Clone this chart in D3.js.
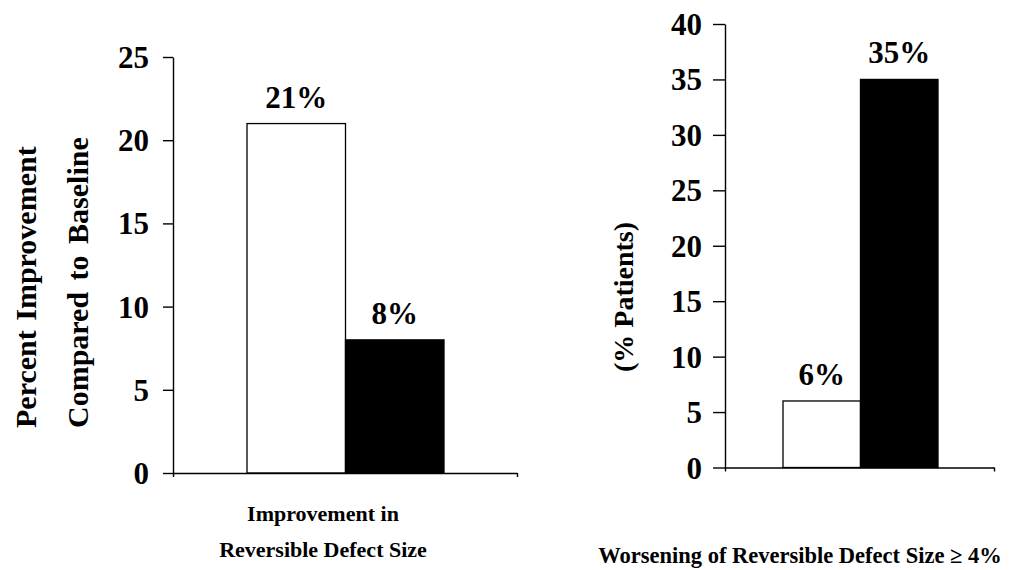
<!DOCTYPE html>
<html>
<head>
<meta charset="utf-8">
<script src="https://cdn.jsdelivr.net/npm/d3@7"></script>
<style>
  body { margin: 0; background: #fff; }
  svg { display: block; }
  text { font-family: "Liberation Serif", "Times New Roman", serif; font-weight: bold; fill: #000; }
</style>
</head>
<body>
<div class="chart"></div>
<script>
// data
const groups = ['Group A', 'Group B'];
const improvementValues = [21, 8];     // left panel, % improvement vs baseline
const worseningValues = [6, 35];       // right panel, % patients
const leftTicks = [0, 5, 10, 15, 20, 25];
const rightTicks = [0, 5, 10, 15, 20, 25, 30, 35, 40];
const leftLabels = ['21%', '8%'];
const rightLabels = ['6%', '35%'];

const fills = ['#fff', '#000'];

const svg = d3.select('.chart').append('svg')
  .attr('width', 1009).attr('height', 570);

// one panel = y axis + baseline + two bars + value labels
function drawPanel(opt) {
  const y = d3.scaleLinear([0, opt.yMax], [opt.y0, opt.y1]);
  const x = d3.scaleBand().domain(groups).range([opt.barL, opt.barR]).paddingInner(0);

  const g = svg.append('g');

  // bars
  g.selectAll('.bar').data(opt.values).join('rect')
    .attr('class', 'bar')
    .attr('x', (d, i) => x(groups[i]))
    .attr('y', d => y(d))
    .attr('width', x.bandwidth())
    .attr('height', d => y(0) - y(d))
    .attr('fill', (d, i) => fills[i])
    .attr('stroke', '#000')
    .attr('stroke-width', 1.3);

  // value labels above bars
  g.selectAll('.val').data(opt.values).join('text')
    .attr('class', 'val')
    .attr('x', (d, i) => x(groups[i]) + x.bandwidth() / 2)
    .attr('y', d => y(d) - 16)
    .attr('text-anchor', 'middle')
    .style('font-size', '31px')
    .text((d, i) => opt.labels[i]);

  // y axis
  const yAxis = d3.axisLeft(y).tickValues(opt.ticks)
    .tickSize(opt.tick).tickSizeOuter(0).tickPadding(opt.pad);
  const yg = g.append('g')
    .attr('transform', `translate(${opt.axisX},0)`)
    .call(yAxis);
  yg.selectAll('text').style('font-size', opt.tickFont + 'px').attr('dy', '0.34em');
  yg.selectAll('path, line').attr('stroke', '#000').attr('stroke-width', 1.4);

  // x baseline with small ticks at both ends
  const xb = d3.scaleLinear([0, 1], [opt.axisX, opt.xEnd]);
  const xg = g.append('g')
    .attr('transform', `translate(0,${y(0)})`)
    .call(d3.axisBottom(xb).tickValues([0, 1]).tickSize(4).tickSizeOuter(0).tickFormat(''));
  xg.selectAll('path, line').attr('stroke', '#000').attr('stroke-width', 1.4);

  return g;
}

drawPanel({
  values: improvementValues, labels: leftLabels, ticks: leftTicks, yMax: 25,
  y0: 473, y1: 57, axisX: 173, xEnd: 517, barL: 247, barR: 444,
  tick: 10, pad: 14, tickFont: 31
});

drawPanel({
  values: worseningValues, labels: rightLabels, ticks: rightTicks, yMax: 40,
  y0: 467.5, y1: 24, axisX: 725, xEnd: 994, barL: 783, barR: 938,
  tick: 12, pad: 11, tickFont: 31
});

// y titles (rotated)
function vText(x, y, txt, size, anchor, ws) {
  svg.append('text')
    .attr('transform', `translate(${x},${y}) rotate(-90)`)
    .attr('text-anchor', anchor)
    .style('font-size', size + 'px')
    .style('word-spacing', ws + 'px')
    .text(txt);
}
vText(36, 428, 'Percent Improvement', 30, 'start', 2);
vText(88, 428, 'Compared to Baseline', 30, 'start', 4);
vText(633, 297, '(% Patients)', 28, 'middle', 0);

// x titles
svg.append('text').attr('x', 323).attr('y', 521).attr('text-anchor', 'middle')
  .style('font-size', '22px').text('Improvement in');
svg.append('text').attr('x', 323).attr('y', 557).attr('text-anchor', 'middle')
  .style('font-size', '22px').text('Reversible Defect Size');
svg.append('text').attr('x', 800).attr('y', 563).attr('text-anchor', 'middle')
  .style('font-size', '22.5px').text('Worsening of Reversible Defect Size \u2265 4%');
</script>
</body>
</html>
